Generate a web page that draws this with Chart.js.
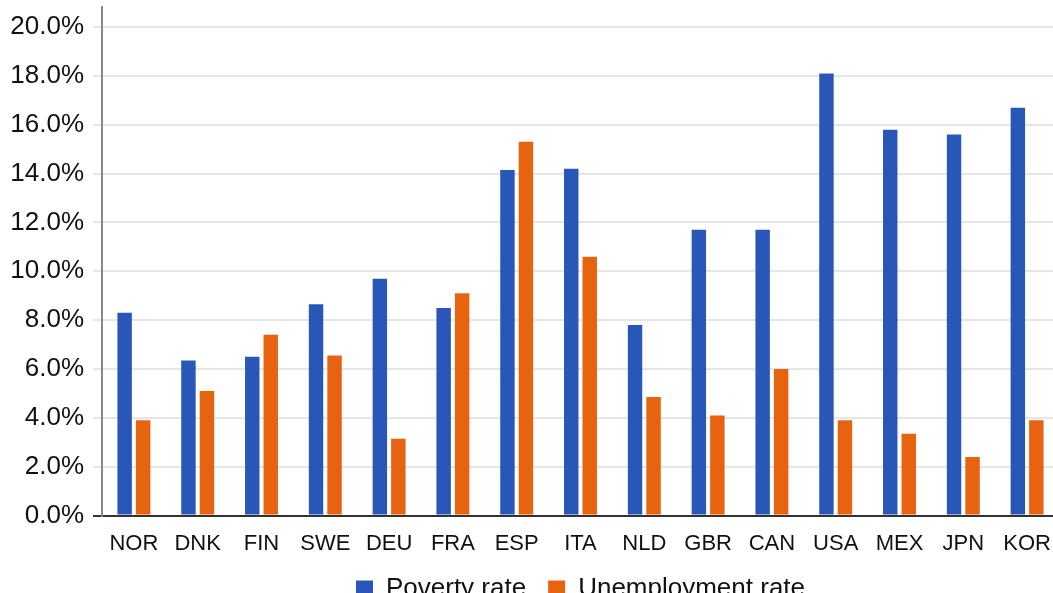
<!DOCTYPE html>
<html>
<head>
<meta charset="utf-8">
<script src="https://cdn.jsdelivr.net/npm/chart.js@4/dist/chart.umd.min.js"></script>
<style>
  html, body { margin: 0; padding: 0; overflow: hidden; background: #fff; }
  #wrap { width: 1060px; height: 612px; }
</style>
</head>
<body>
<div id="wrap"><canvas id="my-chart"></canvas></div>
<script>
// countries on the x axis
const countries = ["NOR", "DNK", "FIN", "SWE", "DEU", "FRA", "ESP", "ITA", "NLD", "GBR", "CAN", "USA", "MEX", "JPN", "KOR"];

// values in percent
const povertyRate = [8.3, 6.35, 6.5, 8.65, 9.7, 8.5, 14.15, 14.2, 7.8, 11.7, 11.7, 18.1, 15.8, 15.6, 16.7];
const unemploymentRate = [3.9, 5.1, 7.4, 6.55, 3.15, 9.1, 15.3, 10.6, 4.85, 4.1, 6.0, 3.9, 3.35, 2.4, 3.9];

// y axis tick values
const yTicks = [0, 2, 4, 6, 8, 10, 12, 14, 16, 18, 20];

const fontFamily = "'Liberation Sans', Arial, sans-serif";

const ctx = document.getElementById("my-chart").getContext("2d");
const chart = new Chart(ctx, {
  type: "bar",
  data: {
    labels: countries,
    datasets: [
      {
        label: "Poverty rate",
        backgroundColor: "#2957b8",
        data: povertyRate,
      },
      {
        label: "Unemployment rate",
        backgroundColor: "#e8630f",
        data: unemploymentRate,
      },
    ],
  },
  options: {
    responsive: true,
    maintainAspectRatio: false,
    animation: false,
    categoryPercentage: 0.58,
    barPercentage: 0.78,
    layout: { padding: { top: 7, right: 1, left: 0, bottom: 0 } },
    plugins: {
      tooltip: { enabled: false },
      legend: {
        position: "bottom",
        fullSize: false, // centre the legend under the plot area
        labels: {
          boxWidth: 17,
          boxHeight: 17,
          padding: 22,
          color: "#111",
          font: { family: fontFamily, size: 26 },
        },
      },
    },
    scales: {
      x: {
        afterFit: (scale) => {
          scale.height -= 10;
        },
        grid: { display: false },
        border: { display: true, color: "#333", width: 2 },
        ticks: {
          color: "#111",
          padding: 7,
          font: { family: fontFamily, size: 22 },
          maxRotation: 0,
          autoSkip: false,
        },
      },
      y: {
        min: 0,
        max: 20.82,
        afterFit: (scale) => {
          scale.width = 102;
          scale.paddingTop = 0;
          scale.paddingBottom = 0;
        },
        afterBuildTicks: (scale) => {
          scale.ticks = yTicks.map((v) => ({ value: v }));
        },
        grid: {
          color: (c) => (c.tick && c.tick.value === 0 ? "#333" : "#e6e6e6"),
          lineWidth: 2,
          tickLength: 9,
        },
        border: { display: true, color: "#888", width: 2 },
        ticks: {
          color: "#111",
          padding: 9,
          font: { family: fontFamily, size: 26 },
          callback: (v) => v.toFixed(1) + "%",
        },
      },
    },
  },
}); // closes chart
</script>
</body>
</html>
